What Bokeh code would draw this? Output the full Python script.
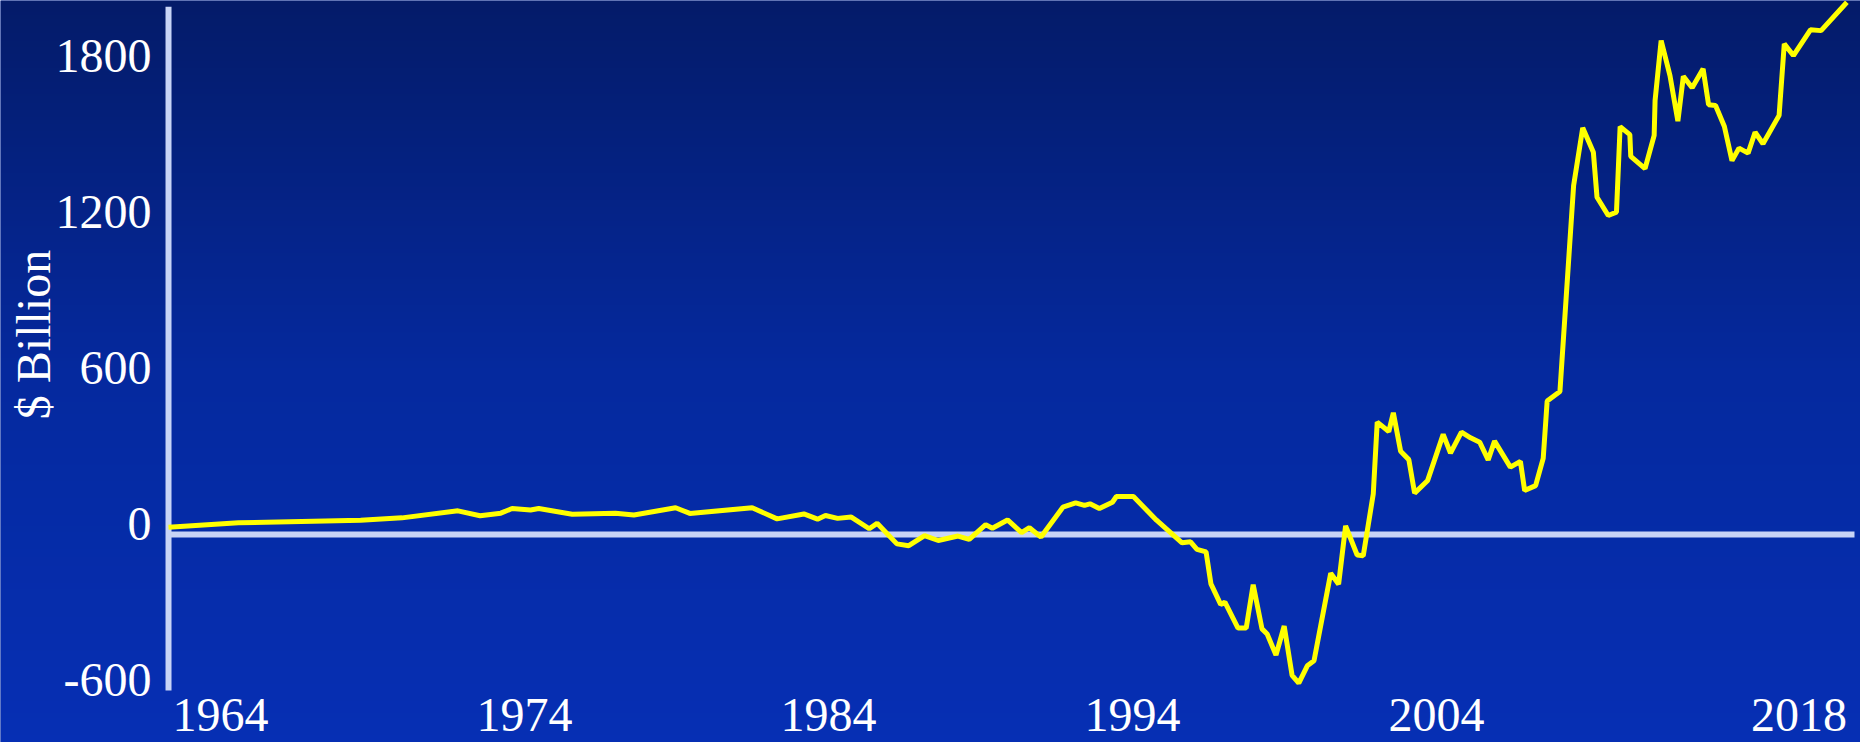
import numpy as np
from bokeh.plotting import figure
from bokeh.models import Range1d
from bokeh.core.properties import value
from bokeh.embed import file_html
from bokeh.resources import INLINE

# ---------------- data ----------------
years = [1962.79, 1965.09, 1969.11, 1970.47, 1972.31, 1973.04, 1973.72, 1974.09, 1974.70, 1974.97,
         1976.07, 1977.49, 1978.10, 1979.47, 1979.94, 1981.99, 1982.81, 1983.69, 1984.14, 1984.40,
         1984.80, 1985.25, 1985.84, 1986.10, 1986.75, 1987.14, 1987.66, 1988.11, 1988.76, 1989.13,
         1989.67, 1989.89, 1990.39, 1990.85, 1991.11, 1991.49, 1992.21, 1992.63, 1992.92, 1993.10,
         1993.41, 1993.84, 1993.97, 1994.53, 1995.29, 1996.13, 1996.41, 1996.62, 1996.92, 1997.08,
         1997.40, 1997.54, 1997.97, 1998.24, 1998.47, 1998.76, 1998.93, 1999.22, 1999.49, 1999.75,
         1999.97, 2000.25, 2000.47, 2001.02, 2001.28, 2001.51, 2001.89, 2002.09, 2002.42, 2002.55,
         2002.93, 2003.08, 2003.32, 2003.59, 2003.78, 2004.21, 2004.72, 2004.96, 2005.32, 2005.62,
         2005.92, 2006.20, 2006.41, 2006.93, 2007.26, 2007.40, 2007.76, 2008.01, 2008.14, 2008.56,
         2009.01, 2009.31, 2009.66, 2009.78, 2010.15, 2010.42, 2010.54, 2010.86, 2010.89, 2011.36,
         2011.66, 2011.69, 2011.89, 2012.18, 2012.44, 2012.62, 2012.91, 2013.27, 2013.45, 2013.68,
         2013.97, 2014.22, 2014.45, 2014.75, 2014.98, 2015.24, 2015.77, 2015.94, 2016.24, 2016.80,
         2017.15, 2018.00]
values = [28, 45, 55, 64, 91, 72, 82, 100, 94, 100,
          78, 82, 75, 103, 81, 103, 60, 79, 59, 73,
          62, 67, 22, 43, -36, -43, -4, -23, -6, -19,
          38, 24, 56, 7, 26, -10, 105, 122, 112, 118,
          100, 124, 146, 146, 55, -32, -28, -57, -67, -190,
          -269, -260, -360, -360, -193, -363, -383, -464, -352, -542,
          -572, -505, -486, -149, -191, 33, -79, -82, 156, 432,
          396, 468, 320, 288, 159, 208, 385, 313, 394, 372,
          355, 287, 359, 259, 281, 169, 188, 293, 513, 550,
          1342, 1564, 1470, 1297, 1227, 1240, 1569, 1538, 1454, 1407,
          1535, 1669, 1900, 1765, 1590, 1762, 1718, 1791, 1653, 1650,
          1569, 1438, 1486, 1467, 1547, 1503, 1612, 1887, 1842, 1941,
          1938, 2047]

y_ticks = [1800, 1200, 600, 0, -600]
y_tick_labels = ["1800", "1200", "600", "0", "-600"]
x_tick_years = [1964, 1974, 1984, 1994, 2004]
x_tick_labels = ["1964", "1974", "1984", "1994", "2004"]
x_last_label = "2018"
y_title = "$ Billion"

# ---------------- layout ----------------
W, H = 1860, 742
PX_PER_YEAR = 30.4
PX_PER_UNIT = 0.26
X_REF_PX, X_REF_YEAR = 220.0, 1964.5
ZERO_PX = 534.0
BASE_FIX = 17  # px: renderer places the alphabetic baseline this much lower


def px_x(px):
    return X_REF_YEAR + (px - X_REF_PX) / PX_PER_YEAR


def px_y(py):
    return (ZERO_PX - py) / PX_PER_UNIT


def val_px(v):
    return ZERO_PX - v * PX_PER_UNIT


X0, X1 = px_x(0), px_x(W)
Y0, Y1 = px_y(H), px_y(0)

p = figure(width=W, height=H, x_range=Range1d(X0, X1), y_range=Range1d(Y0, Y1),
           output_backend="svg", toolbar_location=None,
           x_axis_location=None, y_axis_location=None,
           min_border=0, min_border_left=0, min_border_right=0,
           min_border_top=0, min_border_bottom=0)
p.grid.visible = False
p.outline_line_color = None
p.background_fill_color = "#0529a0"
p.border_fill_color = "#0529a0"

# vertical gradient background
stops_px = [0, 370, 742]
stops_rgb = [(4, 27, 105), (5, 41, 158), (6, 47, 180)]
img = np.zeros((H, 2), dtype=np.uint32)
view = img.view(dtype=np.uint8).reshape((H, 2, 4))
for row in range(H):
    py = H - 1 - row  # row 0 is the bottom
    for c in range(3):
        view[row, :, c] = int(round(np.interp(py, stops_px, [s[c] for s in stops_rgb])))
    view[row, :, 3] = 255
p.image_rgba(image=[img], x=X0, y=Y0, dw=X1 - X0, dh=Y1 - Y0)

AXIS_COLOR = "#c8d4f6"
axis_x = years[0]
axis_top = 2030
axis_right = px_x(1854)
p.segment(x0=[axis_x], y0=[y_ticks[-1]], x1=[axis_x], y1=[axis_top],
          line_color=AXIS_COLOR, line_width=6, line_cap="butt")
p.segment(x0=[axis_x], y0=[0], x1=[axis_right], y1=[0],
          line_color=AXIS_COLOR, line_width=6, line_cap="butt")

# data line
p.line(x=years, y=values, line_color="#ffff00", line_width=5)

FONT = value("Liberation Serif")
FS = "48px"
# y tick labels (baseline ~6px below the tick position)
p.text(x=[px_x(151)] * len(y_ticks), y=[px_y(val_px(t) + 6 - BASE_FIX) for t in y_ticks],
       text=y_tick_labels, text_align="right", text_baseline="alphabetic",
       text_color="white", text_font=FONT, text_font_size=FS)
# x tick labels
xl_y = px_y(731 - BASE_FIX)
p.text(x=[yr + 0.5 for yr in x_tick_years], y=[xl_y] * len(x_tick_years), text=x_tick_labels,
       text_align="center", text_baseline="alphabetic",
       text_color="white", text_font=FONT, text_font_size=FS)
p.text(x=[years[-1]], y=[xl_y], text=[x_last_label],
       text_align="right", text_baseline="alphabetic",
       text_color="white", text_font=FONT, text_font_size=FS)
# y title
p.text(x=[px_x(50 - BASE_FIX)], y=[px_y(334)], text=[y_title], angle=np.pi / 2,
       text_align="center", text_baseline="alphabetic",
       text_color="white", text_font=FONT, text_font_size=FS)

open("out.html", "w").write(file_html(p, INLINE))
